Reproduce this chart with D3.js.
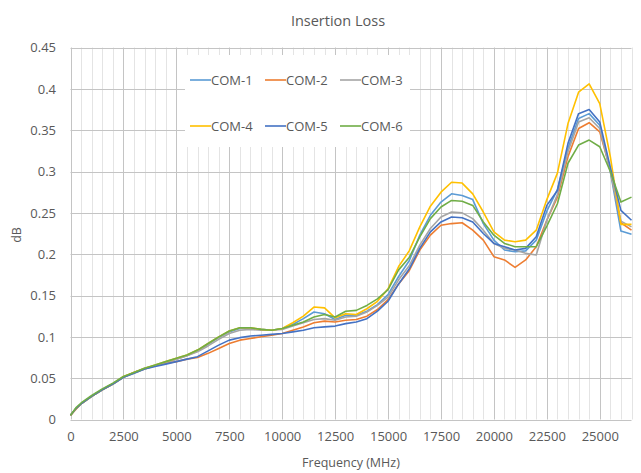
<!DOCTYPE html>
<html>
<head>
<meta charset="utf-8">
<script src="https://cdn.jsdelivr.net/npm/d3@7"></script>
<style>
html,body{margin:0;padding:0;background:#fff;}
svg{display:block;font-family:"Open Sans",sans-serif;}
</style>
</head>
<body>
<svg id="chart" width="641" height="473"></svg>
<script>
const freq = [0,250,500,1000,1500,2000,2500,3000,3500,4000,4500,5000,5500,6000,6500,7000,7500,8000,8500,9000,9500,10000,10500,11000,11500,12000,12500,13000,13500,14000,14500,15000,15500,16000,16500,17000,17500,18000,18500,19000,19500,20000,20500,21000,21500,22000,22500,23000,23500,24000,24500,25000,25500,26000,26500];

const seriesNames = ["COM-1","COM-2","COM-3","COM-4","COM-5","COM-6"];
const seriesColors = ["#5B9BD5","#ED7D31","#A5A5A5","#FFC000","#4472C4","#70AD47"];

const com1 = [0.005,0.013,0.019,0.028,0.036,0.043,0.051,0.057,0.062,0.065,0.069,0.073,0.077,0.083,0.091,0.099,0.106,0.110,0.110,0.109,0.108,0.110,0.115,0.122,0.130,0.128,0.121,0.126,0.126,0.131,0.139,0.151,0.173,0.192,0.223,0.247,0.263,0.273,0.271,0.266,0.237,0.217,0.205,0.203,0.204,0.217,0.252,0.278,0.328,0.364,0.370,0.356,0.300,0.228,0.224];
const com2 = [0.005,0.012,0.019,0.028,0.036,0.043,0.051,0.057,0.061,0.065,0.068,0.070,0.073,0.075,0.080,0.086,0.092,0.096,0.098,0.100,0.102,0.104,0.108,0.112,0.117,0.119,0.118,0.120,0.121,0.125,0.133,0.145,0.164,0.180,0.205,0.223,0.235,0.237,0.238,0.229,0.217,0.197,0.193,0.184,0.193,0.209,0.241,0.269,0.318,0.352,0.359,0.348,0.302,0.238,0.229];
const com3 = [0.005,0.013,0.019,0.028,0.036,0.043,0.051,0.056,0.061,0.065,0.069,0.073,0.077,0.082,0.089,0.097,0.104,0.108,0.109,0.108,0.108,0.109,0.113,0.117,0.121,0.122,0.120,0.124,0.125,0.130,0.138,0.148,0.169,0.186,0.211,0.231,0.245,0.251,0.250,0.243,0.229,0.213,0.207,0.205,0.201,0.199,0.241,0.272,0.324,0.360,0.365,0.352,0.300,0.240,0.233];
const com4 = [0.005,0.013,0.019,0.028,0.036,0.043,0.052,0.057,0.062,0.066,0.070,0.074,0.078,0.084,0.092,0.100,0.107,0.111,0.111,0.109,0.108,0.110,0.117,0.125,0.136,0.135,0.123,0.128,0.127,0.134,0.143,0.158,0.185,0.204,0.233,0.258,0.275,0.287,0.286,0.273,0.251,0.227,0.217,0.215,0.217,0.229,0.266,0.298,0.358,0.396,0.406,0.382,0.318,0.236,0.236];
const com5 = [0.005,0.013,0.019,0.028,0.036,0.043,0.051,0.056,0.061,0.064,0.067,0.070,0.073,0.076,0.083,0.090,0.096,0.099,0.101,0.102,0.103,0.104,0.106,0.108,0.111,0.112,0.113,0.116,0.118,0.122,0.131,0.143,0.164,0.182,0.207,0.227,0.239,0.245,0.244,0.239,0.225,0.213,0.209,0.205,0.207,0.221,0.259,0.277,0.334,0.370,0.375,0.360,0.305,0.253,0.241];
const com6 = [0.005,0.014,0.020,0.029,0.037,0.044,0.052,0.057,0.062,0.066,0.070,0.074,0.078,0.084,0.092,0.100,0.107,0.111,0.111,0.109,0.108,0.110,0.114,0.118,0.124,0.127,0.124,0.131,0.132,0.138,0.146,0.157,0.181,0.196,0.221,0.243,0.257,0.265,0.264,0.259,0.239,0.223,0.213,0.209,0.209,0.209,0.234,0.261,0.310,0.332,0.338,0.330,0.300,0.263,0.269];

const xTicks = [0,2500,5000,7500,10000,12500,15000,17500,20000,22500,25000];
const yTicks = [0,0.05,0.1,0.15,0.2,0.25,0.3,0.35,0.4,0.45];
const xMinorStep = 500;
const xMax = 26500;

const allSeries = [com1,com2,com3,com4,com5,com6].map((v,i)=>({name:seriesNames[i],color:seriesColors[i],values:v}));

const svg = d3.select("#chart");
const x = d3.scaleLinear().domain([0,xMax]).range([70.5,631.5]);
const y = d3.scaleLinear().domain([0,0.45]).range([419.5,47.5]);
const textColor = "#595959";

// minor vertical gridlines
const minor = d3.range(0,xMax+1,xMinorStep).filter(v=>v%2500!==0);
svg.append("g").selectAll("line").data(minor).join("line")
  .attr("x1",d=>Math.round(x(d))+0.5).attr("x2",d=>Math.round(x(d))+0.5)
  .attr("y1",y(0.45)).attr("y2",y(0))
  .attr("stroke","#e4e4e4").attr("stroke-width",1);
// major vertical gridlines
svg.append("g").selectAll("line").data(xTicks).join("line")
  .attr("x1",d=>Math.round(x(d))+0.5).attr("x2",d=>Math.round(x(d))+0.5)
  .attr("y1",y(0.45)).attr("y2",y(0))
  .attr("stroke","#c4c4c4").attr("stroke-width",1);
// horizontal gridlines
svg.append("g").selectAll("line").data(yTicks).join("line")
  .attr("x1",x(0)).attr("x2",x(xMax))
  .attr("y1",d=>Math.round(y(d))+0.5).attr("y2",d=>Math.round(y(d))+0.5)
  .attr("stroke","#c4c4c4").attr("stroke-width",1);

// legend background (covers gridlines)
const lg = svg.append("g");
lg.append("rect").attr("x",185).attr("y",55).attr("width",225).attr("height",92).attr("fill","#fff");

// series lines
const line = d3.line().x((d,i)=>x(freq[i])).y(d=>y(d));
svg.append("g").selectAll("path").data(allSeries).join("path")
  .attr("d",d=>line(d.values))
  .attr("fill","none").attr("stroke",d=>d.color)
  .attr("stroke-width",1.6).attr("stroke-linejoin","round");

// axes labels
const xAxis = d3.axisBottom(x).tickValues(xTicks).tickSize(0).tickPadding(0).tickFormat(d3.format("d"));
const gx = svg.append("g").attr("transform","translate(0,"+(y(0)+12)+")").call(xAxis);
gx.select(".domain").remove();
gx.selectAll("text").attr("fill",textColor).attr("font-size","13px").attr("font-family","Open Sans").attr("dy","0.71em");

const yAxis = d3.axisLeft(y).tickValues(yTicks).tickSize(0).tickPadding(0).tickFormat(d=>d3.format("")(+d.toFixed(2)));
const gy = svg.append("g").attr("transform","translate(56,0)").call(yAxis);
gy.select(".domain").remove();
gy.selectAll("text").attr("fill",textColor).attr("font-size","13px").attr("font-family","Open Sans");

// legend items
const cols = [190,265,340];
const rows = [80,126];
allSeries.forEach((s,i)=>{
  const cx = cols[i%3], cy = rows[Math.floor(i/3)];
  lg.append("line").attr("x1",cx).attr("x2",cx+21).attr("y1",cy).attr("y2",cy)
    .attr("stroke",s.color).attr("stroke-width",1.6);
  lg.append("text").attr("x",cx+21).attr("y",cy).attr("dy","0.35em")
    .attr("fill",textColor).attr("font-size","13px").text(s.name);
});

// title
svg.append("text").attr("x",338).attr("y",26).attr("text-anchor","middle")
  .attr("fill",textColor).attr("font-size","14.5px").text("Insertion Loss");
// axis titles
svg.append("text").attr("x",351).attr("y",467).attr("text-anchor","middle")
  .attr("fill",textColor).attr("font-size","12.5px").text("Frequency (MHz)");
svg.append("text").attr("transform","translate(21,235) rotate(-90)").attr("text-anchor","middle")
  .attr("fill",textColor).attr("font-size","12.5px").text("dB");
</script>
</body>
</html>
